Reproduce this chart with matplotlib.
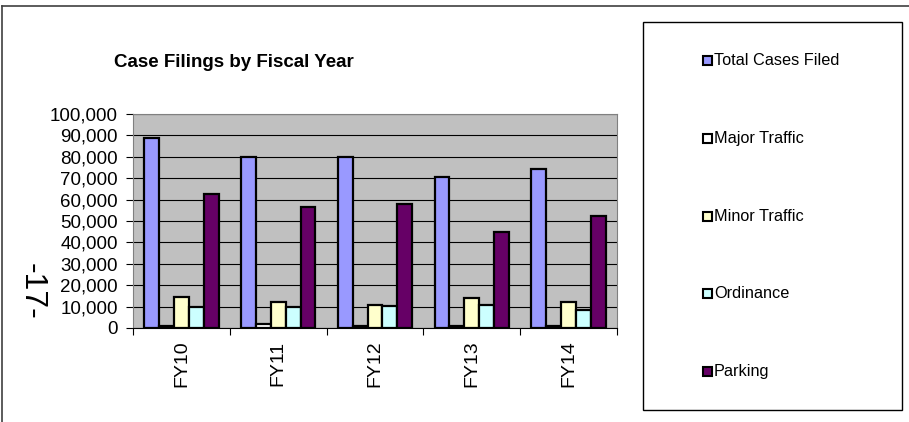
import matplotlib
matplotlib.use("Agg")
import numpy as np
import matplotlib.pyplot as plt
from matplotlib.patches import Rectangle
from matplotlib.lines import Line2D
from matplotlib.ticker import FuncFormatter, MultipleLocator

plt.rcParams['font.family'] = ['Liberation Sans', 'DejaVu Sans']

years = ["FY10", "FY11", "FY12", "FY13", "FY14"]
total_cases = [88700, 80000, 80000, 70600, 74100]
major_traffic = [1000, 1800, 1000, 1100, 900]
minor_traffic = [14600, 12300, 10700, 14000, 12100]
ordinance = [10000, 9800, 10300, 10700, 8400]
parking = [62500, 56400, 57900, 44700, 52300]

series_names = ["Total Cases Filed", "Major Traffic", "Minor Traffic", "Ordinance", "Parking"]
series_values = [total_cases, major_traffic, minor_traffic, ordinance, parking]
colors = ["#9999FF", "#FFFFFF", "#FFFFCC", "#CCFFFF", "#660066"]

fig = plt.figure(figsize=(9.09, 4.22), dpi=100)
ax = fig.add_axes([133/909, 1 - 328/422, (617 - 133)/909, (328 - 114)/422])
ax.set_facecolor("#C0C0C0")

x = np.arange(len(years))
w = 1 / 6.5
for i, (vals, c) in enumerate(zip(series_values, colors)):
    ax.bar(x + (i - 2) * w, vals, width=w, color=c, edgecolor="black",
           linewidth=1.6, zorder=3)

ax.set_xlim(-0.5, len(years) - 0.5)
ax.set_ylim(0, 100000)
ax.yaxis.set_major_locator(MultipleLocator(10000))
ax.yaxis.set_major_formatter(FuncFormatter(lambda v, p: f"{int(v):,}"))
ax.grid(axis="y", color="black", linewidth=0.8, zorder=1)

ax.set_xticks(x)
ax.set_xticklabels(years, rotation=90)
ax.set_xticks(np.arange(len(years) + 1) - 0.5, minor=True)
ax.tick_params(axis="x", which="major", length=0, pad=9, labelsize=14)
ax.tick_params(axis="x", which="minor", length=5, width=0.8, direction="out")
ax.tick_params(axis="y", length=5, width=0.8, pad=6, labelsize=13.5)

for side in ["top", "right", "left"]:
    ax.spines[side].set_color("#808080")
ax.spines["bottom"].set_color("black")

fig.text(234/909, 1 - 63/422, "Case Filings by Fiscal Year", ha="center", va="center",
         fontsize=13.5, fontweight="bold")
fig.text(32/909, 1 - 291/422, "-17-", rotation=270, ha="center", va="center", fontsize=23)

# outer border on top and left
fig.add_artist(Line2D([2/909, 2/909], [0, 1 - 6/422], color="#404040", linewidth=1.2,
                      transform=fig.transFigure))
fig.add_artist(Line2D([2/909, 1], [1 - 6/422, 1 - 6/422], color="#404040", linewidth=1.2,
                      transform=fig.transFigure))

# legend box
fig.add_artist(Rectangle((643/909, 1 - 410/422), (902 - 643)/909, (410 - 22)/422,
                         facecolor="white", edgecolor="black", linewidth=1.0,
                         transform=fig.transFigure))
for k, (name, c) in enumerate(zip(series_names, colors)):
    yc = 60.7 + k * 77.7
    fig.add_artist(Rectangle((703/909, 1 - (yc + 4.5)/422), 9/909, 9/422,
                             facecolor=c, edgecolor="black", linewidth=1.5,
                             transform=fig.transFigure))
    fig.text(714/909, 1 - yc/422, name, ha="left", va="center", fontsize=11.7)

fig.savefig("out.png", dpi=100)
